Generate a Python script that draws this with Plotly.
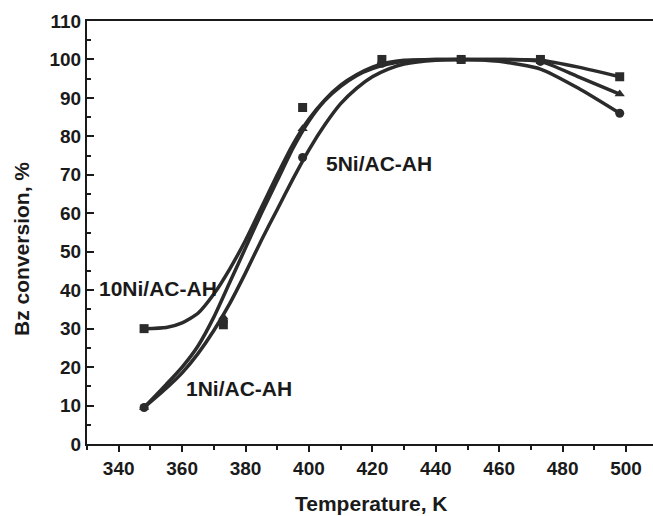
import plotly.graph_objects as go

# Measured points
temp_pts = [348, 373, 398, 423, 448, 473, 498]
ni10_pts = [30, 31, 87.5, 100, 100, 100, 95.5]
ni5_pts = [9.5, 33, 82, 99.5, 100, 100, 91]
ni1_pts = [9.5, 32, 74.5, 99, 100, 99.5, 86]

# Smooth fitted curves
temp_curve = [348, 355, 360, 365, 370, 375, 380, 385, 390, 395, 400, 405, 410,
              415, 420, 425, 430, 440, 448, 460, 473, 485, 498]
ni10_curve = [30, 30.3, 31.5, 34, 39, 45.5, 53, 61.5, 70, 78, 84.5, 89.5, 93.3,
              96, 98, 99.2, 99.8, 100, 100, 100, 99.8, 98, 95.5]
ni5_curve = [9.5, 15.5, 20, 25.5, 33, 42, 51, 60, 68.5, 77, 84, 89.3, 93,
             95.8, 97.6, 98.8, 99.5, 100, 100, 100, 99.5, 95.5, 91]
ni1_curve = [9.5, 14.5, 18.5, 23.5, 29.5, 36.5, 44.5, 53, 61, 69, 76.5, 83, 88.5,
             92.5, 95.5, 97.5, 98.8, 99.8, 100, 99.5, 97.5, 92.5, 86]

x_ticks = [340, 360, 380, 400, 420, 440, 460, 480, 500]
y_ticks = [0, 10, 20, 30, 40, 50, 60, 70, 80, 90, 100, 110]

labels = ["10Ni/AC-AH", "5Ni/AC-AH", "1Ni/AC-AH"]
label_x = [352.5, 422, 378]
label_y = [40.5, 73, 14.5]

ink = "#2b2b2b"
fig = go.Figure()

for yc in [ni10_curve, ni5_curve, ni1_curve]:
    fig.add_trace(go.Scatter(x=temp_curve, y=yc, mode="lines",
                             line=dict(color=ink, width=3.5, shape="spline", smoothing=0.6),
                             showlegend=False, hoverinfo="skip"))

for yp, sym in [(ni10_pts, "square"), (ni5_pts, "triangle-up"), (ni1_pts, "circle")]:
    fig.add_trace(go.Scatter(x=temp_pts, y=yp, mode="markers",
                             marker=dict(symbol=sym, size=9, color=ink),
                             showlegend=False))

for t, lx, ly in zip(labels, label_x, label_y):
    fig.add_annotation(x=lx, y=ly, text=f"<b>{t}</b>", showarrow=False,
                       font=dict(family="Liberation Sans", size=21, color="#1a1a1a"))

# axis titles
fig.add_annotation(xref="paper", yref="paper", x=0.5035, y=-0.1395,
                   xanchor="center", yanchor="middle",
                   text="<b>Temperature, K</b>", showarrow=False,
                   font=dict(family="Liberation Sans", size=21, color="#1a1a1a"))
fig.add_annotation(xref="paper", yref="paper", x=-0.115, y=0.461,
                   xanchor="center", yanchor="middle",
                   text="<b>Bz conversion, %</b>", showarrow=False, textangle=-90,
                   font=dict(family="Liberation Sans", size=21, color="#1a1a1a"))

fig.update_layout(
    width=653, height=516,
    margin=dict(l=87, r=0, t=21, b=72),
    paper_bgcolor="white", plot_bgcolor="white",
    font=dict(family="Liberation Sans", color="#1a1a1a"),
    xaxis=dict(range=[330, 508.5], tickvals=x_ticks,
               ticktext=[f"<b>{v}</b>" for v in x_ticks],
               ticks="outside", ticklen=6, automargin=False,
               tickwidth=1.5, tickcolor="#1a1a1a", showline=True, linecolor="#1a1a1a",
               linewidth=2, mirror=True, showgrid=False, zeroline=False,
               tickfont=dict(size=19, family="Liberation Sans"),
               minor=dict(dtick=10, ticks="outside", ticklen=4, tickcolor="#1a1a1a")),
    yaxis=dict(range=[0, 110], tickvals=y_ticks,
               ticktext=[f"<b>{v}</b>" for v in y_ticks],
               ticks="inside", ticklen=7, automargin=False,
               tickwidth=1.5, tickcolor="#1a1a1a", showline=True, linecolor="#1a1a1a",
               linewidth=2, showgrid=False, zeroline=False,
               tickfont=dict(size=19, family="Liberation Sans"),
               minor=dict(dtick=5, ticks="inside", ticklen=4, tickcolor="#1a1a1a")),
)

fig.write_html("out.html", config={"displayModeBar": False},
               post_script="document.body.style.margin='0';document.body.style.overflow='hidden';")
